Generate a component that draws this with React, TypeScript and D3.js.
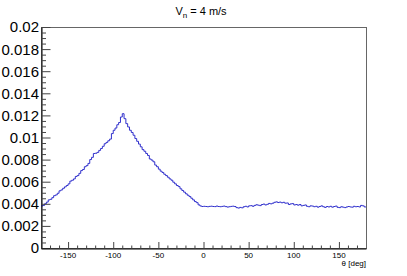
import * as d3 from 'd3'
import { useEffect, useRef } from 'react'

const W = 407
const H = 276
const margin = { top: 27, right: 41, bottom: 28, left: 41 }

// histogram: 180 bins of 2 deg from -180 to 180
const binLow = -180
const binWidth = 2
const countsRise = [
  0.00385, 0.0039, 0.00405, 0.0042, 0.0044, 0.00445, 0.0046, 0.00478, 0.00485, 0.005,
  0.00522, 0.0053, 0.00545, 0.00558, 0.0057, 0.00585, 0.0061, 0.00618, 0.0063, 0.00652,
  0.0066, 0.0068, 0.00705, 0.00715, 0.0074, 0.0075, 0.0077, 0.00805, 0.00825, 0.0086,
  0.00862, 0.0087, 0.00888, 0.00905, 0.00925, 0.00948, 0.0096, 0.00975, 0.0099, 0.0104,
  0.0107, 0.0109, 0.0112, 0.0114, 0.0119,
]
const countsFall = [
  0.0122, 0.01175, 0.0113, 0.011, 0.0107, 0.0105, 0.01025, 0.00995, 0.0097, 0.00945,
  0.0092, 0.00895, 0.0088, 0.0086, 0.00842, 0.0081, 0.008, 0.00785, 0.00755, 0.0074,
  0.00718, 0.007, 0.00688, 0.00672, 0.0066, 0.00645, 0.0063, 0.00618, 0.006, 0.00585,
  0.0057, 0.0056, 0.0054, 0.00525, 0.0051, 0.00495, 0.00482, 0.0047, 0.00455, 0.0044,
  0.00425, 0.00415, 0.00395, 0.00385, 0.0038,
]
const countsFlat = [
  0.00382, 0.0038, 0.00378, 0.00381, 0.00383, 0.0038, 0.00379, 0.00384, 0.0038, 0.00378,
  0.00381, 0.00384, 0.00379, 0.00375, 0.00378, 0.00381, 0.00383, 0.0038, 0.0037, 0.00366,
  0.00372, 0.00368, 0.00378, 0.00382, 0.00376, 0.00386, 0.00388, 0.00382, 0.0039, 0.00396,
  0.00392, 0.00388, 0.00398, 0.00402, 0.00394, 0.004, 0.00408, 0.00404, 0.0041, 0.00418,
  0.00422, 0.00416, 0.0042, 0.00414, 0.00418, 0.0041, 0.00412, 0.00398, 0.00404, 0.00406,
  0.00394, 0.00398, 0.00392, 0.00398, 0.00386, 0.0039, 0.00394, 0.00382, 0.00378, 0.00386,
  0.00384, 0.00378, 0.00382, 0.00374, 0.0038, 0.00386, 0.00378, 0.00372, 0.0038, 0.00376,
  0.00382, 0.00374, 0.0038, 0.00384, 0.00372, 0.0037, 0.00378, 0.00374, 0.0037, 0.00376,
  0.0038, 0.00376, 0.00374, 0.00382, 0.00378, 0.0038, 0.00376, 0.0039, 0.00386, 0.00376,
]
const counts = [...countsRise, ...countsFall, ...countsFlat]

const xMajor = [-150, -100, -50, 0, 50, 100, 150]
const yMajor = [0, 0.002, 0.004, 0.006, 0.008, 0.01, 0.012, 0.014, 0.016, 0.018, 0.02]

const font = 'Liberation Sans, Arial, Helvetica, sans-serif'

export default function App() {
  const ref = useRef<SVGSVGElement>(null)

  useEffect(() => {
    const svg = d3.select(ref.current)
    svg.selectAll('*').remove()

    const x = d3.scaleLinear().domain([-180, 180]).range([margin.left, W - margin.right])
    const y = d3.scaleLinear().domain([0, 0.02]).range([H - margin.bottom, margin.top])

    svg.append('rect').attr('width', W).attr('height', H).attr('fill', '#fff')

    // frame
    svg
      .append('rect')
      .attr('x', x(-180) + 0.5)
      .attr('y', y(0.02) + 0.5)
      .attr('width', x(180) - x(-180))
      .attr('height', y(0) - y(0.02))
      .attr('fill', 'none')
      .attr('stroke', '#666')

    // histogram step line
    const pts: [number, number][] = []
    counts.forEach((v, i) => {
      pts.push([binLow + i * binWidth, v])
      pts.push([binLow + (i + 1) * binWidth, v])
    })
    const line = d3
      .line<[number, number]>()
      .x((d) => x(d[0]))
      .y((d) => y(d[1]) + 0.5)
    svg
      .append('path')
      .attr('d', line(pts))
      .attr('fill', 'none')
      .attr('stroke', '#3030cc')
      .attr('stroke-width', 1)

    // y axis
    const yAxis = d3
      .axisRight(y)
      .tickValues(d3.range(0, 0.02001, 0.0005))
      .tickSize(0)
      .tickFormat(() => '')
    const gy = svg.append('g').attr('transform', `translate(${x(-180) + 0.5},0)`).call(yAxis)
    gy.select('.domain').attr('stroke', '#000')
    gy.selectAll<SVGLineElement, number>('.tick line')
      .attr('x2', (d) => (yMajor.some((m) => Math.abs(m - d) < 1e-7) ? 9 : 4.5))
      .attr('stroke', '#444')
    svg
      .append('g')
      .selectAll('text')
      .data(yMajor)
      .join('text')
      .attr('x', x(-180) - 2)
      .attr('y', (d) => y(d))
      .attr('dy', '0.36em')
      .attr('text-anchor', 'end')
      .attr('font-family', font)
      .attr('font-size', 15)
      .text((d) => (d === 0 ? '0' : String(+d.toFixed(3))))

    // x axis
    const xAxis = d3
      .axisTop(x)
      .tickValues(d3.range(-170, 180, 10))
      .tickSize(0)
      .tickFormat(() => '')
    const gx = svg.append('g').attr('transform', `translate(0,${y(0) + 0.5})`).call(xAxis)
    gx.select('.domain').attr('stroke', '#000')
    gx.selectAll<SVGLineElement, number>('.tick line')
      .attr('y2', (d) => (d % 50 === 0 ? -6.5 : -3))
      .attr('stroke', '#444')
    svg
      .append('g')
      .selectAll('text')
      .data(xMajor)
      .join('text')
      .attr('x', (d) => x(d))
      .attr('y', y(0) + 10)
      .attr('text-anchor', 'middle')
      .attr('font-family', font)
      .attr('font-size', 8)
      .text((d) => String(d))

    svg
      .append('text')
      .attr('x', x(180))
      .attr('y', 266)
      .attr('text-anchor', 'end')
      .attr('font-family', font)
      .attr('font-size', 8)
      .text('θ [deg]')

    // title
    const t = svg
      .append('text')
      .attr('x', 201)
      .attr('y', 15)
      .attr('text-anchor', 'middle')
      .attr('font-family', font)
      .attr('font-size', 11)
    t.append('tspan').text('V')
    t.append('tspan').attr('dy', 3).attr('font-size', 8).text('n')
    t.append('tspan').attr('dy', -3).text(' = 4 m/s')
  }, [])

  return (
    <svg
      ref={ref}
      width={W}
      height={H}
      style={{ position: 'absolute', left: 0, top: 0, display: 'block' }}
    />
  )
}
